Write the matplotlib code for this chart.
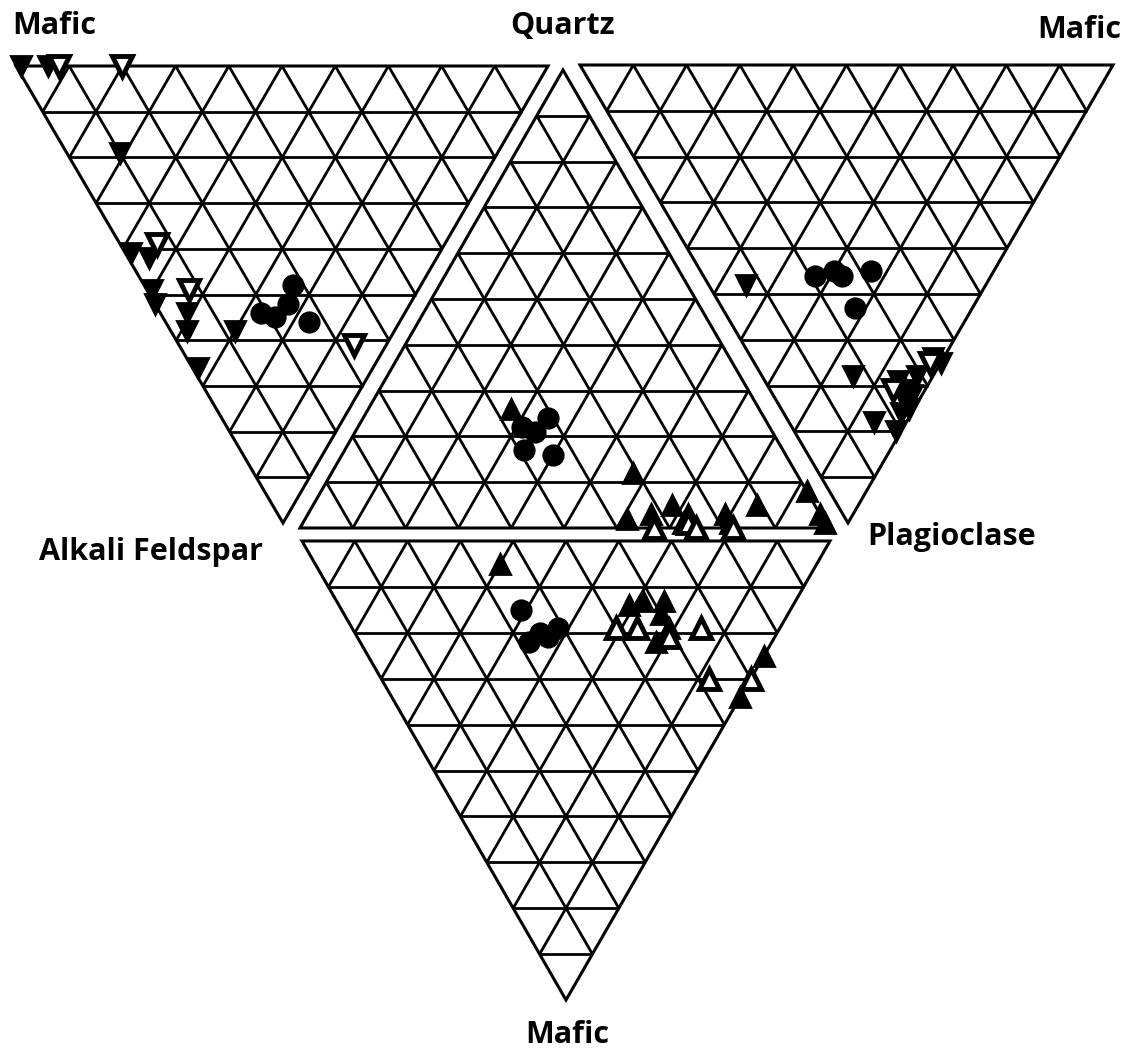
import numpy as np
import matplotlib.pyplot as plt

# ternary compositions (percent) read off each face of the unfolded QAPM diagram
# left face: (Mafic, Quartz, Alkali Feldspar)
left_circle = [(27, 19, 54), (24, 21, 55), (23, 25, 52), (24, 28, 48), (17, 27, 56)]
left_down = [(99, 1, 0), (94, 6, 0), (71, 10, 19), (58, 1, 41), (54, 4, 42), (50, 1, 49),
             (48, 0, 52), (41, 5, 54), (39, 3, 58), (30, 12, 58), (33, 1, 66)]
left_down_open = [(92, 8, 0), (80, 20, 0), (54, 7, 39), (43, 8, 49), (6, 33, 61)]

# centre face: (Quartz, Alkali Feldspar, Plagioclase)
centre_circle = [(22, 47, 31), (24, 41, 35), (21, 45, 34), (17, 49, 34), (16, 44, 40)]
centre_up = [(26, 47, 27), (12, 31, 57), (2, 37, 61), (3, 32, 65), (5, 27, 68), (3, 25, 72),
             (1, 27, 72), (3, 18, 79), (1, 18, 81), (5, 11, 84), (8, 0, 92), (3, 0, 97),
             (1, 0, 99)]
centre_up_open = [(0, 33, 67), (1, 26, 73), (0, 25, 75), (0, 18, 82)]

# right face: (Quartz, Mafic, Plagioclase)
right_circle = [(33, 21, 46), (30, 25, 45), (28, 26, 46), (23, 32, 45), (22, 25, 53)]
right_down = [(45, 7, 48), (15, 17, 68), (6, 16, 78), (0, 35, 65), (3, 29, 68), (6, 25, 69),
              (3, 26, 71), (3, 24, 73), (1, 24, 75), (2, 22, 76), (2, 26, 72), (1, 19, 80),
              (2, 34, 64)]
right_down_open = [(6, 23, 71), (2, 33, 65)]

# bottom face: (Alkali Feldspar, Plagioclase, Mafic)
bottom_circle = [(51, 34, 15), (46, 32, 22), (45, 35, 20), (42, 39, 19), (43, 36, 21)]
bottom_up = [(60, 35, 5), (31, 55, 14), (29, 58, 13), (25, 62, 13), (24, 60, 16),
             (21, 60, 19), (22, 56, 22), (0, 75, 25), (0, 66, 34)]
bottom_up_open = [(31, 50, 19), (27, 54, 19), (20, 59, 21), (15, 66, 19), (8, 62, 30),
                  (0, 70, 30)]

# face corners on the canvas (pixels), same order as the compositions above
LEFT = np.array([[16, 66], [548, 66], [283, 523]])
CENTRE = np.array([[563, 70], [300, 528], [828, 528]])
RIGHT = np.array([[580, 65], [1113, 65], [848, 523]])
BOTTOM = np.array([[302, 541], [830, 541], [566, 1000]])


def to_xy(comps, V):
    w = np.array(comps, dtype=float)
    w = w / w.sum(axis=1, keepdims=True)
    return w @ V


def draw_face(ax, V, n=10):
    for k in range(1, n):
        t = k / n
        for i in range(3):
            a, b, c = V[i], V[(i + 1) % 3], V[(i + 2) % 3]
            p1 = a + t * (b - a)
            p2 = a + t * (c - a)
            ax.plot([p1[0], p2[0]], [p1[1], p2[1]], color='black', lw=2.0,
                    solid_capstyle='butt')
    ax.add_patch(plt.Polygon(V, closed=True, fill=False, edgecolor='black',
                             lw=2.2, joinstyle='miter'))


def put(ax, comps, V, marker, filled=True, ms=15):
    xy = to_xy(comps, V)
    ax.plot(xy[:, 0], xy[:, 1], linestyle='none', marker=marker, markersize=ms,
            markerfacecolor='black' if filled else 'white',
            markeredgecolor='black', markeredgewidth=2.0 if filled else 3.5, zorder=3)


fig = plt.figure(figsize=(11.33, 10.58), dpi=100)
ax = fig.add_axes([0, 0, 1, 1])
ax.set_xlim(0, 1133)
ax.set_ylim(1058, 0)
ax.axis('off')

for V in (LEFT, CENTRE, RIGHT, BOTTOM):
    draw_face(ax, V)

put(ax, left_down, LEFT, 'v')
put(ax, left_down_open, LEFT, 'v', filled=False)
put(ax, left_circle, LEFT, 'o', ms=14)

put(ax, centre_up, CENTRE, '^')
put(ax, centre_up_open, CENTRE, '^', filled=False)
put(ax, centre_circle, CENTRE, 'o', ms=14)

put(ax, right_down, RIGHT, 'v')
put(ax, right_down_open, RIGHT, 'v', filled=False)
put(ax, right_circle, RIGHT, 'o', ms=14)

put(ax, bottom_up, BOTTOM, '^')
put(ax, bottom_up_open, BOTTOM, '^', filled=False)
put(ax, bottom_circle, BOTTOM, 'o', ms=14)

lab = dict(fontsize=22, fontweight='bold', family=['Open Sans', 'DejaVu Sans'],
           ha='center', va='center')
ax.text(54, 26, 'Mafic', **lab)
ax.text(562, 26, 'Quartz', **lab)
ax.text(1079, 30, 'Mafic', **lab)
ax.text(151, 552, 'Alkali Feldspar', **lab)
ax.text(952, 537, 'Plagioclase', **lab)
ax.text(567, 1035, 'Mafic', **lab)

fig.savefig('out.png', dpi=100)
